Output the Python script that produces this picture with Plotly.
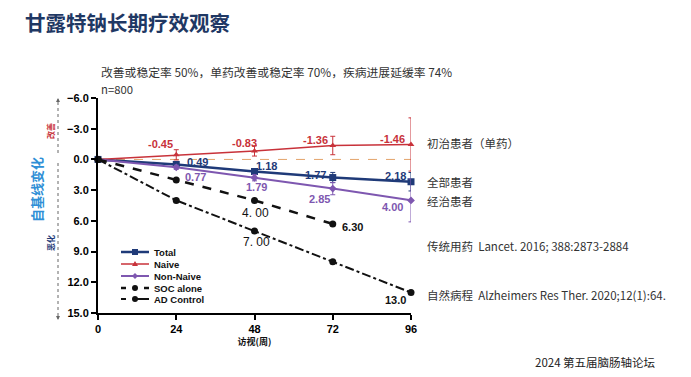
import plotly.graph_objects as go

# ---- data ----
weeks = [0, 24, 48, 72, 96]
total = [0, 0.49, 1.18, 1.77, 2.18]
total_err = [0, 0.15, 0.2, 0.5, 0.9]
naive = [0, -0.45, -0.83, -1.36, -1.46]
naive_err = [0, 0.5, 0.5, 0.9, 2.6]
non_naive = [0, 0.77, 1.79, 2.85, 4.00]
non_naive_err = [0, 0.2, 0.3, 0.6, 2.1]
soc_weeks = [0, 24, 48, 72]
soc = [0, 2.0, 4.0, 6.3]
ad = [0, 4.0, 7.0, 10.0, 13.0]

total_labels = ["", "0.49", "1.18", "1.77", "2.18"]
naive_labels = ["", "-0.45", "-0.83", "-1.36", "-1.46"]
non_naive_labels = ["", "0.77", "1.79", "2.85", "4.00"]
soc_labels = ["", "", "4. 00", "6.30"]
ad_labels = ["", "", "7. 00", "", "13.0"]
series_names = ["Total", "Naive", "Non-Naive", "SOC alone", "AD Control"]

y_ticks = [-6, -3, 0, 3, 6, 9, 12, 15]
x_ticks = [0, 24, 48, 72, 96]

NAVY = "#1f3a78"
RED = "#c8323a"
PURPLE = "#7e57b0"
BLACK = "#111111"
CJK = "Noto Sans CJK SC, Liberation Sans, Arial, sans-serif"
LAT = "Liberation Sans, Arial, sans-serif"

fig = go.Figure()

fig.add_shape(type="line", x0=0, x1=96, y0=0, y1=0, xref="x", yref="y",
              line=dict(color="#e3a46a", width=1, dash="dash"), layer="below")

fig.add_trace(go.Scatter(x=weeks, y=total, name=series_names[0], mode="lines+markers",
                         line=dict(color=NAVY, width=2.5),
                         marker=dict(symbol="square", size=7, color=NAVY),
                         error_y=dict(type="data", array=total_err, color=NAVY, thickness=1, width=2.5),
                         cliponaxis=False))
fig.add_trace(go.Scatter(x=weeks, y=naive, name=series_names[1], mode="lines+markers",
                         line=dict(color=RED, width=1.5),
                         marker=dict(symbol="triangle-up", size=6, color=RED),
                         error_y=dict(type="data", array=naive_err, color=RED, thickness=1, width=2.5),
                         cliponaxis=False))
fig.add_trace(go.Scatter(x=weeks, y=non_naive, name=series_names[2], mode="lines+markers",
                         line=dict(color=PURPLE, width=2),
                         marker=dict(symbol="diamond", size=6, color=PURPLE),
                         error_y=dict(type="data", array=non_naive_err, color=PURPLE, thickness=1, width=2.5),
                         cliponaxis=False))
fig.add_trace(go.Scatter(x=soc_weeks, y=soc, name=series_names[3], mode="lines+markers",
                         line=dict(color=BLACK, width=2.5, dash="dash"),
                         marker=dict(symbol="circle", size=7, color=BLACK),
                         cliponaxis=False))
fig.add_trace(go.Scatter(x=weeks, y=ad, name=series_names[4], mode="lines+markers",
                         line=dict(color=BLACK, width=2, dash="dashdot"),
                         marker=dict(symbol="circle", size=7, color=BLACK),
                         cliponaxis=False))

# data labels (pixel offsets are styling)
def add_labels(xs, ys, labels, shifts, color, bold=True, size=11):
    for xv, yv, lab, (dx, dy) in zip(xs, ys, labels, shifts):
        if not lab:
            continue
        fig.add_annotation(x=xv, y=yv, xref="x", yref="y", text=lab, showarrow=False,
                           xshift=dx, yshift=dy,
                           font=dict(family=LAT, size=size, color=color,
                                     weight="bold" if bold else "normal"))

add_labels(weeks, naive, naive_labels, [(0, 0), (-16, 11), (-10, 8), (-17, 6), (-19, 5)], RED)
add_labels(weeks, total, total_labels, [(0, 0), (21, 2), (12, 6), (-17, 3), (-16, 6)], NAVY)
add_labels(weeks, non_naive, non_naive_labels, [(0, 0), (19, -10), (2, -9), (-13, -10), (-19, -7)], PURPLE)
add_labels(soc_weeks, soc, soc_labels, [(0, 0), (0, 0), (1, -13), (20, -3)], BLACK)
add_labels(weeks, ad, ad_labels, [(0, 0), (0, 0), (2, -11), (0, 0), (-16, -7)], BLACK)
for a in fig.layout.annotations:
    if a.text in ("4. 00", "7. 00"):
        a.font.weight = "normal"
        a.font.size = 12

# ---- geometry: page pixels -> paper (page has 8px body margin) ----
OFF = 8
W, H = 691 - OFF, 377 - OFF
PLX0, PLX1, PLY0, PLY1 = 98, 411, 98, 313   # plot area in page pixels
L, T = PLX0 - OFF, PLY0 - OFF
R, B = W - (PLX1 - OFF), H - (PLY1 - OFF)
PW, PH = PLX1 - PLX0, PLY1 - PLY0

def px(x):
    return (x - PLX0) / PW

def py(y):
    return (PLY1 - y) / PH

def text(xp, yp, s, size, color, xanchor="left", bold=False, family=CJK, angle=0, yanchor="middle"):
    fig.add_annotation(x=px(xp), y=py(yp), xref="paper", yref="paper", text=s,
                       showarrow=False, xanchor=xanchor, yanchor=yanchor, textangle=angle,
                       align="left",
                       font=dict(family=family, size=size, color=color,
                                 weight="bold" if bold else "normal"))

text(23, 22, "甘露特钠长期疗效观察", 20.5, "#1f3864", bold=True)
text(99, 72, "改善或稳定率 50%，单药改善或稳定率 70%，疾病进展延缓率 74%", 11.8, "#333333")
text(99, 89, "n=800", 11.3, "#333333")

text(425, 143, "初治患者（单药）", 11.5, "#333333")
text(425, 182, "全部患者", 11.5, "#333333")
text(425, 201, "经治患者", 11.5, "#333333")
text(425, 246, "传统用药  Lancet. 2016; 388:2873-2884", 11.5, "#333333")
text(425, 295, "自然病程  Alzheimers Res Ther. 2020;12(1):64.", 11.5, "#333333")
text(658, 362, "2024 第五届脑肠轴论坛", 11.5, "#222222", xanchor="right")

text(36, 190, "自基线变化", 13, "#2f8fd6", bold=True, angle=-90, xanchor="center")
text(50, 131, "改善", 8, RED, bold=True, angle=-90, xanchor="center")
text(50, 243, "恶化", 8, NAVY, bold=True, angle=-90, xanchor="center")

# dotted guide arrows
fig.add_shape(type="line", xref="paper", yref="paper", x0=px(58), x1=px(58), y0=py(102), y1=py(153),
              line=dict(color="#666666", width=1, dash="dot"))
fig.add_shape(type="line", xref="paper", yref="paper", x0=px(58), x1=px(58), y0=py(163), y1=py(316),
              line=dict(color="#666666", width=1, dash="dot"))
fig.add_annotation(x=px(58), y=py(98), xref="paper", yref="paper", ax=0, ay=5, text="",
                   showarrow=True, arrowhead=2, arrowsize=0.8, arrowwidth=1, arrowcolor="#666666")
fig.add_annotation(x=px(58), y=py(320), xref="paper", yref="paper", ax=0, ay=-5, text="",
                   showarrow=True, arrowhead=2, arrowsize=0.8, arrowwidth=1, arrowcolor="#666666")

# ---- hand-drawn compact legend ----
leg_rows = [252, 264, 276, 288, 299]
leg_x0, leg_x1, leg_mid, leg_tx = 121, 149, 135, 152
leg_styles = [
    dict(color=NAVY, width=2.5, dash="solid", sym="square"),
    dict(color=RED, width=1.5, dash="solid", sym="triangle"),
    dict(color=PURPLE, width=2, dash="solid", sym="diamond"),
    dict(color=BLACK, width=2.5, dash="dash", sym="circle"),
    dict(color=BLACK, width=2, dash="dash", sym="circle"),
]

def pshape(kind, **kw):
    fig.add_shape(type=kind, xref="paper", yref="paper", **kw)

for name, yr, st in zip(series_names, leg_rows, leg_styles):
    c = st["color"]
    if st["dash"] == "solid":
        pshape("line", x0=px(leg_x0), x1=px(leg_x1), y0=py(yr), y1=py(yr),
               line=dict(color=c, width=st["width"]))
    else:
        pshape("line", x0=px(leg_x0), x1=px(leg_x0 + 5), y0=py(yr), y1=py(yr),
               line=dict(color=c, width=st["width"]))
        pshape("line", x0=px(leg_x1 - 5 if name == "SOC alone" else leg_mid + 2), x1=px(leg_x1),
               y0=py(yr), y1=py(yr), line=dict(color=c, width=st["width"]))
    s = 3
    if st["sym"] == "square":
        pshape("rect", x0=px(leg_mid - s), x1=px(leg_mid + s), y0=py(yr - s), y1=py(yr + s),
               fillcolor=c, line=dict(width=0))
    elif st["sym"] == "circle":
        pshape("circle", x0=px(leg_mid - s), x1=px(leg_mid + s), y0=py(yr - s), y1=py(yr + s),
               fillcolor=c, line=dict(width=0))
    elif st["sym"] == "triangle":
        pth = "M {} {} L {} {} L {} {} Z".format(px(leg_mid), py(yr - s), px(leg_mid - s), py(yr + 2),
                                                  px(leg_mid + s), py(yr + 2))
        pshape("path", path=pth, fillcolor=c, line=dict(width=0))
    else:
        pth = "M {} {} L {} {} L {} {} L {} {} Z".format(px(leg_mid), py(yr - s), px(leg_mid + s), py(yr),
                                                         px(leg_mid), py(yr + s), px(leg_mid - s), py(yr))
        pshape("path", path=pth, fillcolor=c, line=dict(width=0))
    text(leg_tx, yr, name, 9.5, "#111111", bold=True, family=LAT)

fig.update_layout(
    width=W, height=H,
    margin=dict(l=L, r=R, t=T, b=B, autoexpand=False),
    paper_bgcolor="white", plot_bgcolor="white",
    showlegend=False,
    xaxis=dict(range=[0, 96], tickvals=x_ticks, showgrid=False, zeroline=False,
               showline=True, linecolor="black", linewidth=2, ticks="outside", ticklen=5,
               tickwidth=2, tickcolor="black",
               tickfont=dict(family=LAT, size=11, color="black", weight="bold"),
               title=dict(text="访视(周)", font=dict(family=CJK, size=9, color="#111", weight="bold"),
                          standoff=4)),
    yaxis=dict(range=[15, -6], tickvals=y_ticks, tickformat=".1f", showgrid=False, zeroline=False,
               showline=True, linecolor="black", linewidth=2, ticks="outside", ticklen=5,
               tickwidth=2, tickcolor="black",
               tickfont=dict(family=LAT, size=11, color="black", weight="bold")),
)

fig.write_html("out.html")
